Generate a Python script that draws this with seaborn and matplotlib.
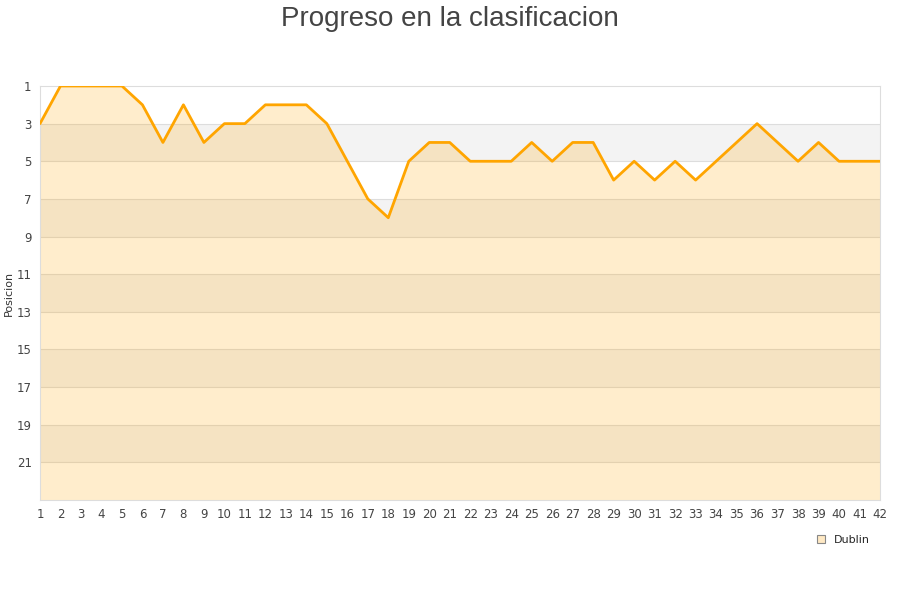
import numpy as np
import pandas as pd
import seaborn as sns
import matplotlib.pyplot as plt
from matplotlib.patches import Patch

# Jornadas y posicion de Dublin
jornadas = list(range(1, 43))
posicion = [3, 1, 1, 1, 1, 2, 4, 2, 4, 3, 3, 2, 2, 2, 3, 5, 7, 8, 5, 4,
            4, 5, 5, 5, 4, 5, 4, 4, 6, 5, 6, 5, 6, 5, 4, 3, 4, 5, 4, 5,
            5, 5]
equipo = "Dublin"
y_ticks = list(range(1, 22, 2))

df = pd.DataFrame({"jornada": jornadas, "posicion": posicion})

sns.set_style("white")
plt.rcParams['font.family'] = ['DejaVu Sans']
fig = plt.figure(figsize=(9, 6), dpi=100)
ax = fig.add_axes([40 / 900, 100 / 600, 840 / 900, 414 / 600])

# alternating bands
for i, lo in enumerate(range(1, 23, 2)):
    color = "white" if i % 2 == 0 else "#f3f3f3"
    ax.axhspan(lo, lo + 2, color=color, zorder=0, lw=0)
for t in y_ticks[1:]:
    ax.axhline(t, color="#dddddd", lw=0.8, zorder=1)

ax.fill_between(df["jornada"], df["posicion"], 23, color="#ffa500", alpha=0.2,
                lw=0, zorder=2)
sns.lineplot(data=df, x="jornada", y="posicion", ax=ax, color="#ffa500",
             lw=2, zorder=3)

ax.set_xlim(1, 42)
ax.set_ylim(23, 1)
ax.set_xticks(jornadas)
ax.set_yticks(y_ticks)
ax.tick_params(labelsize=8.5, colors="#444444", length=0, pad=6)
ax.set_xlabel("")
ax.set_ylabel("Posicion", fontsize=8, color="#333333", labelpad=2)
for s in ax.spines.values():
    s.set_color("#dddddd")
    s.set_linewidth(0.8)

fig.suptitle("Progreso en la clasificacion", fontsize=20, color="#444444", y=0.99,
             family="Liberation Sans")

leg = ax.legend(handles=[Patch(facecolor="#ffe9c4", edgecolor="#888888", lw=0.8,
                               label=equipo)],
                loc="upper right", bbox_to_anchor=(1.0, -0.06), frameon=False,
                fontsize=8, handlelength=0.7, handleheight=0.7)

fig.savefig("out.png", dpi=100)
